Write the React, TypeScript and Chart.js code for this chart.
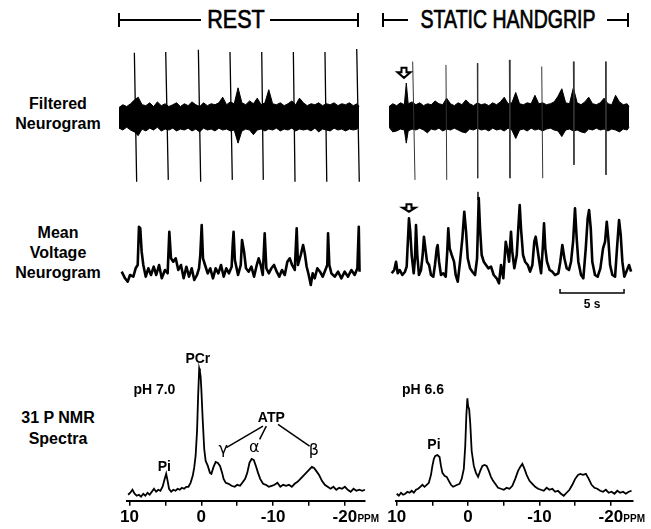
import React, { useEffect, useRef } from "react";
import { Chart, registerables } from "chart.js";

Chart.register(...registerables);

// ---------------- DATA ----------------
// Time axis in seconds, amplitude in arbitrary units.

// Filtered neurogram, REST: noise band envelope
const restBandT = [0, 0.3, 0.6, 0.9, 1.2, 1.5, 1.8, 2.1, 2.4, 2.7, 3.0, 3.3, 3.6, 3.9, 4.2, 4.5, 4.8, 5.1, 5.4, 5.7, 6.0, 6.3, 6.6, 6.9, 7.2, 7.5, 7.8, 8.1, 8.4, 8.7, 9.0, 9.3, 9.6, 9.9, 10.2, 10.5, 10.8, 11.1, 11.4, 11.7, 12.0, 12.3, 12.6, 12.9, 13.2, 13.5, 13.8, 14.1, 14.4, 14.7, 15.0, 15.3, 15.6, 15.9, 16.2, 16.5, 16.8, 17.1, 17.4, 17.7, 18.0, 18.3, 18.6, 18.75];
const restBandTop = [1.0, 1.3, 1.1, 1.4, 1.8, 2.1, 1.3, 1.2, 1.5, 1.1, 1.6, 1.2, 1.4, 1.1, 1.3, 1.5, 1.1, 1.4, 1.2, 1.6, 1.3, 1.1, 1.5, 1.2, 1.4, 1.3, 1.5, 2.1, 1.3, 1.6, 1.4, 3.1, 1.5, 1.3, 1.7, 1.4, 2.0, 1.3, 1.5, 2.9, 1.4, 1.3, 1.5, 1.2, 1.4, 1.7, 1.3, 2.0, 1.5, 1.2, 1.4, 1.3, 1.5, 1.2, 1.4, 1.3, 1.5, 1.2, 1.4, 1.3, 1.5, 1.2, 1.4, 1.1];
const restBandBottom = [-1.2, -1.4, -1.1, -1.4, -1.6, -2.0, -1.3, -1.5, -1.2, -1.4, -1.1, -1.5, -1.3, -1.4, -1.2, -1.5, -1.3, -1.4, -1.2, -1.5, -1.3, -1.6, -1.2, -1.4, -1.3, -1.5, -1.2, -1.4, -1.3, -1.5, -1.4, -2.8, -1.5, -1.3, -1.4, -1.9, -1.4, -1.3, -1.5, -1.3, -1.4, -1.2, -1.5, -1.3, -1.4, -1.2, -1.5, -1.3, -1.4, -1.3, -1.5, -1.2, -1.6, -1.3, -1.4, -1.5, -1.2, -1.4, -1.3, -1.5, -1.3, -1.4, -1.3, -1.1];
// REST spikes (top end and bottom end of each spike)
const restSpikeTopT = [1.2, 3.65, 6.2, 8.67, 11.15, 13.62, 16.09, 18.57];
const restSpikeTopV = [6.83, 6.93, 7.15, 6.93, 6.93, 6.93, 6.93, 7.25];
const restSpikeBottomT = [1.38, 3.85, 6.38, 8.85, 11.27, 13.75, 16.23, 18.77];
const restSpikeBottomV = [-6.93, -6.72, -6.93, -6.72, -6.72, -6.93, -6.93, -6.93];

// Filtered neurogram, STATIC HANDGRIP
const gripBandT = [0, 0.3, 0.6, 0.9, 1.2, 1.35, 1.5, 1.8, 2.1, 2.4, 2.7, 3.0, 3.3, 3.6, 3.9, 4.2, 4.5, 4.8, 5.1, 5.4, 5.7, 6.0, 6.3, 6.6, 6.9, 7.2, 7.5, 7.8, 8.1, 8.4, 8.7, 9.0, 9.3, 9.6, 9.9, 10.2, 10.5, 10.8, 11.1, 11.4, 11.7, 12.0, 12.3, 12.6, 12.9, 13.2, 13.5, 13.8, 14.1, 14.4, 14.7, 15.0, 15.3, 15.6, 15.9, 16.2, 16.5, 16.8, 17.1, 17.4, 17.7, 18.0, 18.3, 18.6, 18.75];
const gripBandTop = [1.1, 1.4, 1.2, 1.5, 1.3, 3.6, 1.4, 1.6, 1.3, 1.5, 1.2, 1.4, 1.3, 1.7, 1.4, 1.3, 2.0, 1.4, 1.2, 1.5, 1.3, 1.8, 1.4, 1.2, 1.5, 1.3, 1.4, 1.2, 1.5, 1.3, 1.6, 2.1, 1.4, 1.5, 2.6, 1.4, 1.3, 1.5, 1.4, 2.3, 1.4, 1.5, 1.3, 1.4, 1.6, 2.2, 3.0, 1.5, 1.4, 3.1, 1.5, 1.3, 1.6, 2.1, 1.4, 1.3, 1.5, 2.0, 1.4, 1.3, 2.3, 1.6, 1.3, 1.4, 1.1];
const gripBandBottom = [-1.1, -1.6, -1.5, -1.3, -1.4, -2.8, -1.5, -1.3, -1.4, -1.2, -1.4, -1.7, -1.3, -1.4, -1.2, -1.5, -1.3, -1.4, -1.2, -1.4, -1.6, -1.7, -1.3, -1.4, -1.2, -1.4, -1.3, -1.5, -1.2, -1.4, -1.3, -1.5, -1.2, -1.4, -2.3, -1.4, -1.3, -1.5, -1.2, -1.4, -1.3, -1.5, -1.3, -1.2, -1.4, -1.5, -2.1, -1.4, -1.3, -1.5, -1.4, -1.6, -1.7, -1.3, -1.4, -1.2, -1.4, -1.3, -1.5, -1.3, -1.4, -1.6, -1.3, -1.4, -1.1];
const gripSpikeTopT = [1.85, 4.45, 6.9, 9.4, 11.93, 14.4, 16.93];
const gripSpikeTopV = [5.9, 5.55, 5.73, 6.08, 5.37, 5.9, 5.9];
const gripSpikeBottomT = [2.03, 4.51, 6.93, 9.45, 12.01, 14.45, 16.95];
const gripSpikeBottomV = [-6.72, -6.72, -6.54, -6.54, -6.54, -5.12, -6.19];
const gripSpikeFragmentT = [6.95, 6.95];
const gripSpikeFragmentV = [-8.0, -8.85];
const gripFilteredArrow = { t: 1.17, top: 5.23, bottom: 4.16 };

// Mean voltage neurogram, REST
const mvRestT = [0.21, 0.47, 0.68, 0.86, 1.12, 1.3, 1.46, 1.56, 1.66, 1.77, 1.9, 2.09, 2.29, 2.5, 2.71, 2.91, 3.13, 3.34, 3.59, 3.8, 3.93, 4.06, 4.24, 4.43, 4.63, 4.84, 5.05, 5.26, 5.47, 5.68, 5.88, 6.09, 6.25, 6.35, 6.46, 6.56, 6.72, 6.93, 7.13, 7.34, 7.55, 7.76, 7.97, 8.18, 8.38, 8.59, 8.8, 8.88, 8.95, 9.05, 9.3, 9.51, 9.61, 9.77, 9.92, 10.13, 10.34, 10.55, 10.76, 10.91, 11.07, 11.23, 11.38, 11.51, 11.7, 11.9, 12.11, 12.32, 12.52, 12.73, 12.95, 13.15, 13.34, 13.52, 13.73, 13.88, 13.98, 14.2, 14.38, 14.51, 14.66, 14.82, 14.98, 15.13, 15.29, 15.49, 15.7, 15.91, 16.12, 16.27, 16.33, 16.43, 16.59, 16.85, 17.11, 17.37, 17.63, 17.89, 18.15, 18.41, 18.62, 18.73, 18.79];
const mvRestV = [43.3, 36.7, 33.3, 40, 38.3, 46.7, 50, 88.3, 86.7, 63.3, 50, 38.3, 46.7, 40, 48.3, 40, 50, 36.7, 45, 41.7, 83.3, 56.7, 53.3, 56.7, 45, 50, 36.7, 48.3, 38.3, 46.7, 35, 40, 46.7, 60, 90, 56.7, 50, 41.7, 46.7, 36.7, 46.7, 41.7, 50, 38.3, 46.7, 41.7, 48.3, 70, 83.3, 55, 40, 50, 75, 63.3, 46.7, 43.3, 48.3, 38.3, 50, 56.7, 50, 40, 81.7, 46.7, 41.7, 46.7, 50, 43.3, 38.3, 45, 40, 53.3, 56.7, 50, 45, 86.7, 50, 60, 70, 61.7, 48.3, 40, 30, 41.7, 36.7, 46.7, 43.3, 38.3, 45, 50, 81.7, 50, 41.7, 38.3, 43.3, 36.7, 43.3, 38.3, 45, 40, 46.7, 88.3, 43.3];

// Mean voltage neurogram, STATIC HANDGRIP
const mvGripT = [0.21, 0.41, 0.55, 0.68, 0.84, 1.04, 1.25, 1.38, 1.46, 1.56, 1.66, 1.77, 1.93, 2.03, 2.11, 2.21, 2.34, 2.5, 2.63, 2.73, 2.84, 2.97, 3.13, 3.28, 3.46, 3.59, 3.73, 3.8, 3.91, 4.06, 4.24, 4.43, 4.55, 4.63, 4.74, 4.9, 5.08, 5.21, 5.37, 5.55, 5.73, 5.88, 6.02, 6.15, 6.33, 6.51, 6.72, 6.88, 7.01, 7.11, 7.24, 7.4, 7.58, 7.76, 7.97, 8.18, 8.41, 8.59, 8.75, 8.93, 9.12, 9.27, 9.38, 9.53, 9.63, 9.79, 9.98, 10.1, 10.21, 10.31, 10.47, 10.63, 10.84, 11.02, 11.2, 11.35, 11.46, 11.59, 11.74, 11.88, 12.01, 12.11, 12.21, 12.34, 12.55, 12.76, 12.97, 13.23, 13.38, 13.54, 13.7, 13.88, 14.06, 14.22, 14.38, 14.53, 14.66, 14.79, 15.0, 15.18, 15.37, 15.52, 15.63, 15.76, 15.88, 16.09, 16.3, 16.51, 16.72, 16.88, 17.01, 17.13, 17.27, 17.45, 17.66, 17.81, 17.97, 18.1, 18.23, 18.38, 18.54, 18.75, 18.91];
const mvGripV = [41.7, 45, 53.3, 41.7, 45, 40, 43.3, 48.3, 70, 96.7, 83.3, 60, 41.7, 56.7, 90, 60, 40, 45, 60, 78.3, 66.7, 53.3, 50, 40, 38.3, 50, 66.7, 70, 53.3, 40, 41.7, 38.3, 63.3, 86.7, 66.7, 60, 53.3, 40, 33.3, 53.3, 76.7, 103.3, 83.3, 56.7, 46.7, 43.3, 40, 56.7, 117, 86.7, 60, 53.3, 50, 46.7, 48.3, 40, 36.7, 31.7, 50, 36.7, 73.3, 63.3, 53.3, 83.3, 63.3, 46.7, 60, 86.7, 110, 86.7, 60, 53.3, 50, 43.3, 50, 73.3, 78.3, 66.7, 53.3, 41.7, 66.7, 91.7, 66.7, 53.3, 45, 43.3, 40, 41.7, 53.3, 70, 56.7, 46.7, 45, 53.3, 73.3, 106.7, 76.7, 53.3, 40, 36.7, 66.7, 96.7, 105, 86.7, 53.3, 40, 38.3, 46.7, 66.7, 73.3, 93.3, 76.7, 50, 40, 38.3, 66.7, 95, 80, 53.3, 38.3, 43.3, 50, 43.3];
const gripMeanArrow = { t: 1.56, top: 110.7, bottom: 103.3 };
const scaleBarStart = 13.36; // s
const scaleBarLength = 5; // s
const scaleBarLevel = 22;
const scaleBarTick = 4;

// 31P NMR spectra: chemical shift (ppm) vs intensity (a.u.)
const nmrRestPpm = [10.2, 9.9, 9.6, 9.3, 9.0, 8.7, 8.4, 8.1, 7.8, 7.5, 7.2, 6.9, 6.6, 6.3, 6.0, 5.7, 5.4, 5.1, 4.9, 4.7, 4.5, 4.2, 3.9, 3.6, 3.3, 3.0, 2.7, 2.4, 2.1, 1.8, 1.5, 1.2, 1.0, 0.8, 0.6, 0.45, 0.3, 0.2, 0.1, 0.0, -0.2, -0.4, -0.6, -0.9, -1.2, -1.4, -1.7, -2.0, -2.3, -2.6, -2.9, -3.1, -3.4, -3.8, -4.2, -4.65, -5.0, -5.4, -5.8, -6.1, -6.4, -6.7, -7.0, -7.3, -7.6, -7.9, -8.2, -8.6, -9.0, -9.4, -9.8, -10.2, -10.6, -11.0, -11.4, -11.8, -12.2, -12.6, -13.0, -13.4, -13.8, -14.2, -14.6, -15.0, -15.4, -15.7, -16.0, -16.4, -16.8, -17.2, -17.6, -18.0, -18.4, -18.8, -19.2, -19.6, -20.0, -20.4, -20.8, -21.2, -21.6, -22.0, -22.4, -22.8];
const nmrRestInt = [6, 8, 11, 7, 5, 6, 4, 7, 5, 8, 6, 9, 12, 9, 11, 10, 14, 22, 27, 20, 12, 9, 11, 10, 12, 11, 13, 12, 14, 14, 18, 25, 33, 45, 70, 105, 133, 130, 125, 112, 80, 52, 40, 35, 28, 27, 34, 39, 38, 35, 28, 22, 18, 17, 15, 14, 16, 15, 19, 22, 28, 38, 42, 41, 35, 28, 22, 17, 16, 14, 15, 16, 18, 14, 16, 15, 16, 14, 17, 19, 22, 25, 28, 31, 34, 33, 30, 26, 20, 16, 14, 12, 14, 11, 13, 12, 14, 11, 9, 12, 10, 11, 10, 11];
const nmrGripPpm = [10.0, 9.7, 9.4, 9.1, 8.8, 8.5, 8.2, 7.9, 7.6, 7.3, 7.0, 6.7, 6.4, 6.1, 5.8, 5.5, 5.2, 5.0, 4.8, 4.6, 4.3, 4.0, 3.8, 3.6, 3.3, 3.0, 2.7, 2.4, 2.1, 1.8, 1.5, 1.2, 0.9, 0.6, 0.4, 0.25, 0.1, 0.0, -0.15, -0.3, -0.5, -0.8, -1.1, -1.4, -1.7, -2.0, -2.3, -2.6, -2.9, -3.2, -3.5, -3.8, -4.2, -4.6, -5.0, -5.4, -5.8, -6.2, -6.6, -7.0, -7.3, -7.6, -7.9, -8.2, -8.6, -9.0, -9.4, -9.8, -10.2, -10.6, -11.0, -11.4, -11.8, -12.2, -12.6, -13.0, -13.4, -13.8, -14.2, -14.6, -15.0, -15.4, -15.7, -16.1, -16.5, -16.9, -17.3, -17.7, -18.1, -18.5, -18.9, -19.3, -19.7, -20.1, -20.5, -20.9, -21.3, -21.7, -22.1, -22.5, -22.9];
const nmrGripInt = [7, 5, 8, 6, 7, 9, 8, 10, 8, 11, 12, 14, 16, 14, 16, 18, 26, 35, 42, 45, 46, 44, 35, 28, 25, 24, 20, 16, 14, 15, 16, 17, 22, 32, 55, 85, 103, 95, 92, 78, 50, 35, 28, 24, 30, 35, 36, 35, 30, 24, 20, 17, 13, 12, 11, 13, 12, 15, 22, 30, 34, 37, 32, 26, 20, 17, 14, 12, 11, 10, 13, 11, 12, 9, 10, 7, 5, 8, 11, 16, 22, 26, 27, 26, 27, 22, 16, 13, 12, 10, 9, 11, 8, 9, 7, 10, 8, 9, 7, 9, 10];
const nmrTickValues = [10, 5, 0, -5, -10, -15, -20];
const nmrLabelledTicks = [10, 0, -10, -20];

// Text labels
const restTitle = "REST";
const gripTitle = "STATIC HANDGRIP";
const rowLabels = [["Filtered", "Neurogram"], ["Mean", "Voltage", "Neurogram"], ["31 P NMR", "Spectra"]];
const scaleBarLabel = "5 s";
const unitLabel = "PPM";

// ---------------- HELPERS ----------------
const FONT = '"Liberation Sans", Arial, Helvetica, sans-serif';

type XY = { x: number; y: number | null };
const pairs = (xs: number[], ys: number[]): XY[] => xs.map((x, i) => ({ x, y: ys[i] }));
const spikeSegments = (tTop: number[], vTop: number[], tBot: number[], vBot: number[]): XY[] => {
  const out: XY[] = [];
  tTop.forEach((t, i) => {
    out.push({ x: t, y: vTop[i] }, { x: tBot[i], y: vBot[i] }, { x: tBot[i], y: null });
  });
  return out;
};

const baseOptions = (xMin: number, xMax: number, yMin: number, yMax: number): any => ({
  responsive: false,
  animation: false,
  events: [],
  layout: { padding: 0 },
  plugins: { legend: { display: false }, tooltip: { enabled: false } },
  elements: { point: { radius: 0, hoverRadius: 0 }, line: { tension: 0 } },
  scales: {
    x: { type: "linear", min: xMin, max: xMax, display: false },
    y: { type: "linear", min: yMin, max: yMax, display: false },
  },
});

function drawHollowArrow(ctx: CanvasRenderingContext2D, cx: number, top: number, bottom: number) {
  const h = bottom - top;
  const mid = top + h * 0.45;
  ctx.save();
  ctx.beginPath();
  ctx.moveTo(cx - 2.5, top);
  ctx.lineTo(cx + 2.5, top);
  ctx.lineTo(cx + 2.5, mid);
  ctx.lineTo(cx + 6.5, mid);
  ctx.lineTo(cx, bottom);
  ctx.lineTo(cx - 6.5, mid);
  ctx.lineTo(cx - 2.5, mid);
  ctx.closePath();
  ctx.fillStyle = "#fff";
  ctx.fill();
  ctx.lineWidth = 2;
  ctx.lineJoin = "miter";
  ctx.strokeStyle = "#000";
  ctx.stroke();
  ctx.restore();
}

const arrowPlugin = (marker: { t: number; top: number; bottom: number } | null) => ({
  id: "arrowMarker",
  afterDatasetsDraw(chart: any) {
    if (!marker) return;
    const { ctx, scales } = chart;
    drawHollowArrow(ctx, scales.x.getPixelForValue(marker.t), scales.y.getPixelForValue(marker.top), scales.y.getPixelForValue(marker.bottom));
  },
});

// ---------------- CHART CONFIGS ----------------
const Y_FILT_MIN = -9.4;
const Y_FILT_MAX = 8.2;
const T_MAX = 19.06;

const makeFiltered = (bandT: number[], top: number[], bottom: number[], spikes: XY[], spikeColor: string, spikeWidth: number, marker: any) => () => ({
  type: "line",
  data: {
    datasets: [
      { data: spikes, borderColor: spikeColor, borderWidth: spikeWidth, fill: false, spanGaps: false, clip: false },
      { data: pairs(bandT, top), borderColor: "#000", borderWidth: 1, backgroundColor: "#000", fill: "+1", clip: false },
      { data: pairs(bandT, bottom), borderColor: "#000", borderWidth: 1, fill: false, clip: false },
    ],
  },
  options: baseOptions(0, T_MAX, Y_FILT_MIN, Y_FILT_MAX),
  plugins: [arrowPlugin(marker)],
});

const restSpikes = spikeSegments(restSpikeTopT, restSpikeTopV, restSpikeBottomT, restSpikeBottomV);
const gripSpikes = [
  ...spikeSegments(gripSpikeTopT, gripSpikeTopV, gripSpikeBottomT, gripSpikeBottomV),
  ...pairs(gripSpikeFragmentT, gripSpikeFragmentV),
];

const makeMean = (t: number[], v: number[], marker: any, withScaleBar: boolean) => () => {
  const datasets: any[] = [
    { data: pairs(t, v), borderColor: "#000", borderWidth: 2.6, fill: false, clip: false, borderJoinStyle: "round" },
  ];
  if (withScaleBar) {
    const x0 = scaleBarStart;
    const x1 = scaleBarStart + scaleBarLength;
    datasets.push({
      data: [
        { x: x0, y: scaleBarLevel + scaleBarTick },
        { x: x0, y: scaleBarLevel },
        { x: x1, y: scaleBarLevel },
        { x: x1, y: scaleBarLevel + scaleBarTick },
      ],
      borderColor: "#000",
      borderWidth: 1.5,
      fill: false,
      clip: false,
    });
  }
  return {
    type: "line",
    data: { datasets },
    options: baseOptions(0, T_MAX, 0, 120),
    plugins: [
      arrowPlugin(marker),
      {
        id: "scaleBarLabel",
        afterDatasetsDraw(chart: any) {
          if (!withScaleBar) return;
          const { ctx, scales } = chart;
          ctx.save();
          ctx.font = `bold 12px ${FONT}`;
          ctx.fillStyle = "#000";
          ctx.textAlign = "center";
          ctx.textBaseline = "alphabetic";
          ctx.fillText(scaleBarLabel, scales.x.getPixelForValue(scaleBarStart + scaleBarLength / 2), scales.y.getPixelForValue(scaleBarLevel) + 15);
          ctx.restore();
        },
      },
    ],
  };
};

type Ann = { text: string; ppm: number; y: number; align: CanvasTextAlign; font: string };
const LBL = `bold 14px ${FONT}`;
const GREEK = `16px "DejaVu Sans", sans-serif`;
const restAnnotations: Ann[] = [
  { text: "PCr", ppm: 0.49, y: 138.7, align: "center", font: LBL },
  { text: "pH 7.0", ppm: 9.47, y: 107.7, align: "left", font: LBL },
  { text: "ATP", ppm: -9.75, y: 78.7, align: "center", font: LBL },
  { text: "γ", ppm: -3.06, y: 46.7, align: "center", font: GREEK },
  { text: "α", ppm: -7.38, y: 48.7, align: "center", font: GREEK },
  { text: "β", ppm: -15.67, y: 45.7, align: "center", font: GREEK },
  { text: "Pi", ppm: 5.15, y: 29.7, align: "center", font: LBL },
];
const restLeaders = [
  [-8.59, 75, -3.48, 53.4],
  [-9.05, 75, -8.12, 61.7],
  [-10.68, 76.7, -15.08, 55],
];
const gripAnnotations: Ann[] = [
  { text: "pH 6.6", ppm: 9.26, y: 107.7, align: "left", font: LBL },
  { text: "Pi", ppm: 4.78, y: 51.7, align: "center", font: LBL },
];

const nmrPlugin = (labels: Ann[], leaders: number[][]) => ({
  id: "nmrAnnotations",
  afterDraw(chart: any) {
    const { ctx, scales, chartArea } = chart;
    const X = (v: number) => scales.x.getPixelForValue(v);
    const Y = (v: number) => scales.y.getPixelForValue(v);
    ctx.save();
    ctx.fillStyle = "#000";
    ctx.textBaseline = "alphabetic";
    labels.forEach((l) => {
      ctx.font = l.font;
      ctx.textAlign = l.align;
      ctx.fillText(l.text, X(l.ppm), Y(l.y));
    });
    ctx.strokeStyle = "#000";
    ctx.lineWidth = 1.5;
    leaders.forEach(([p1, i1, p2, i2]) => {
      ctx.beginPath();
      ctx.moveTo(X(p1), Y(i1));
      ctx.lineTo(X(p2), Y(i2));
      ctx.stroke();
    });
    ctx.font = `bold 10px ${FONT}`;
    ctx.textAlign = "left";
    ctx.fillText(unitLabel, X(-20) + 12.5, chartArea.bottom + 21);
    ctx.restore();
  },
});

const makeNmr = (ppm: number[], inten: number[], xMin: number, xMax: number, padding: any, labels: Ann[], leaders: number[][]) => () => {
  const opts = baseOptions(xMin, xMax, 0, 160);
  opts.layout = { padding };
  opts.scales.x = {
    type: "linear",
    min: xMin,
    max: xMax,
    reverse: true,
    position: "bottom",
    display: true,
    border: { display: true, color: "#000", width: 2 },
    grid: { display: true, drawOnChartArea: false, drawTicks: true, tickLength: 5, color: "#000", lineWidth: 1.5 },
    ticks: {
      autoSkip: false,
      maxRotation: 0,
      minRotation: 0,
      padding: 1,
      color: "#000",
      font: { family: FONT, weight: "bold", size: 17 },
      callback: (v: number) => (nmrLabelledTicks.includes(v) ? String(v) : ""),
    },
    afterBuildTicks: (scale: any) => {
      scale.ticks = nmrTickValues.map((v) => ({ value: v }));
    },
  };
  return {
    type: "line",
    data: { datasets: [{ data: pairs(ppm, inten), borderColor: "#000", borderWidth: 1.8, fill: false, clip: false }] },
    options: opts,
    plugins: [nmrPlugin(labels, leaders)],
  };
};

const configs = {
  filtRest: makeFiltered(restBandT, restBandTop, restBandBottom, restSpikes, "#000", 1.3, null),
  filtGrip: makeFiltered(gripBandT, gripBandTop, gripBandBottom, gripSpikes, "#333", 1, gripFilteredArrow),
  meanRest: makeMean(mvRestT, mvRestV, null, false),
  meanGrip: makeMean(mvGripT, mvGripV, gripMeanArrow, true),
  nmrRest: makeNmr(nmrRestPpm, nmrRestInt, -22.8, 10.4, { left: 26.7, right: 25, top: 6.7, bottom: 0.9 }, restAnnotations, restLeaders),
  nmrGrip: makeNmr(nmrGripPpm, nmrGripInt, -23.1, 10.1, { left: 26, right: 18, top: 6.7, bottom: 0.9 }, gripAnnotations, []),
};

// ---------------- COMPONENTS ----------------
function Panel({ left, top, width, height, make }: { left: number; top: number; width: number; height: number; make: () => any }) {
  const ref = useRef<HTMLCanvasElement>(null);
  useEffect(() => {
    const chart = new Chart(ref.current as HTMLCanvasElement, make());
    return () => chart.destroy();
  }, [make]);
  return <canvas ref={ref} width={width} height={height} style={{ position: "absolute", left, top, width, height }} />;
}

const bar = (left: number, top: number, width: number, height: number) => (
  <div style={{ position: "absolute", left, top, width, height, background: "#000" }} />
);

function RowLabel({ lines, top, lineHeight }: { lines: string[]; top: number; lineHeight: number }) {
  return (
    <div
      style={{
        position: "absolute",
        left: 0,
        top,
        width: 116,
        textAlign: "center",
        font: `bold 16px ${FONT}`,
        lineHeight: `${lineHeight}px`,
        color: "#000",
      }}
    >
      {lines.map((l, i) => (
        <div key={i}>{l}</div>
      ))}
    </div>
  );
}

function Title({ text, center, scale }: { text: string; center: number; scale: number }) {
  return (
    <div
      style={{
        position: "absolute",
        top: 7,
        left: center - 150,
        width: 300,
        textAlign: "center",
        font: `25px ${FONT}`,
        lineHeight: "25px",
        color: "#000",
        whiteSpace: "nowrap",
        WebkitTextStroke: "0.7px #000",
        transform: `scaleX(${scale})`,
        transformOrigin: "50% 50%",
      }}
    >
      {text}
    </div>
  );
}

export default function App() {
  return (
    <div style={{ position: "absolute", left: 0, top: 0, width: 651, height: 529, background: "#fff", overflow: "hidden" }}>
      {/* REST bracket */}
      {bar(118, 13, 2, 14)}
      {bar(119, 19, 82, 2)}
      <Title text={restTitle} center={236} scale={0.86} />
      {bar(270, 19, 88, 2)}
      {bar(357, 13, 2, 14)}
      {/* STATIC HANDGRIP bracket */}
      {bar(382, 13, 2, 14)}
      {bar(383, 19, 25, 2)}
      <Title text={gripTitle} center={508} scale={0.78} />
      {bar(607, 19, 21, 2)}
      {bar(627, 13, 2, 14)}

      <RowLabel lines={rowLabels[0]} top={94} lineHeight={20} />
      <RowLabel lines={rowLabels[1]} top={223} lineHeight={20} />
      <RowLabel lines={rowLabels[2]} top={407} lineHeight={21} />

      <Panel left={119} top={40} width={244} height={165} make={configs.filtRest} />
      <Panel left={389} top={40} width={244} height={165} make={configs.filtGrip} />
      <Panel left={119} top={195} width={244} height={120} make={configs.meanRest} />
      <Panel left={389} top={195} width={244} height={120} make={configs.meanGrip} />
      <Panel left={100} top={335} width={290} height={194} make={configs.nmrRest} />
      <Panel left={370} top={335} width={281} height={194} make={configs.nmrGrip} />
    </div>
  );
}
